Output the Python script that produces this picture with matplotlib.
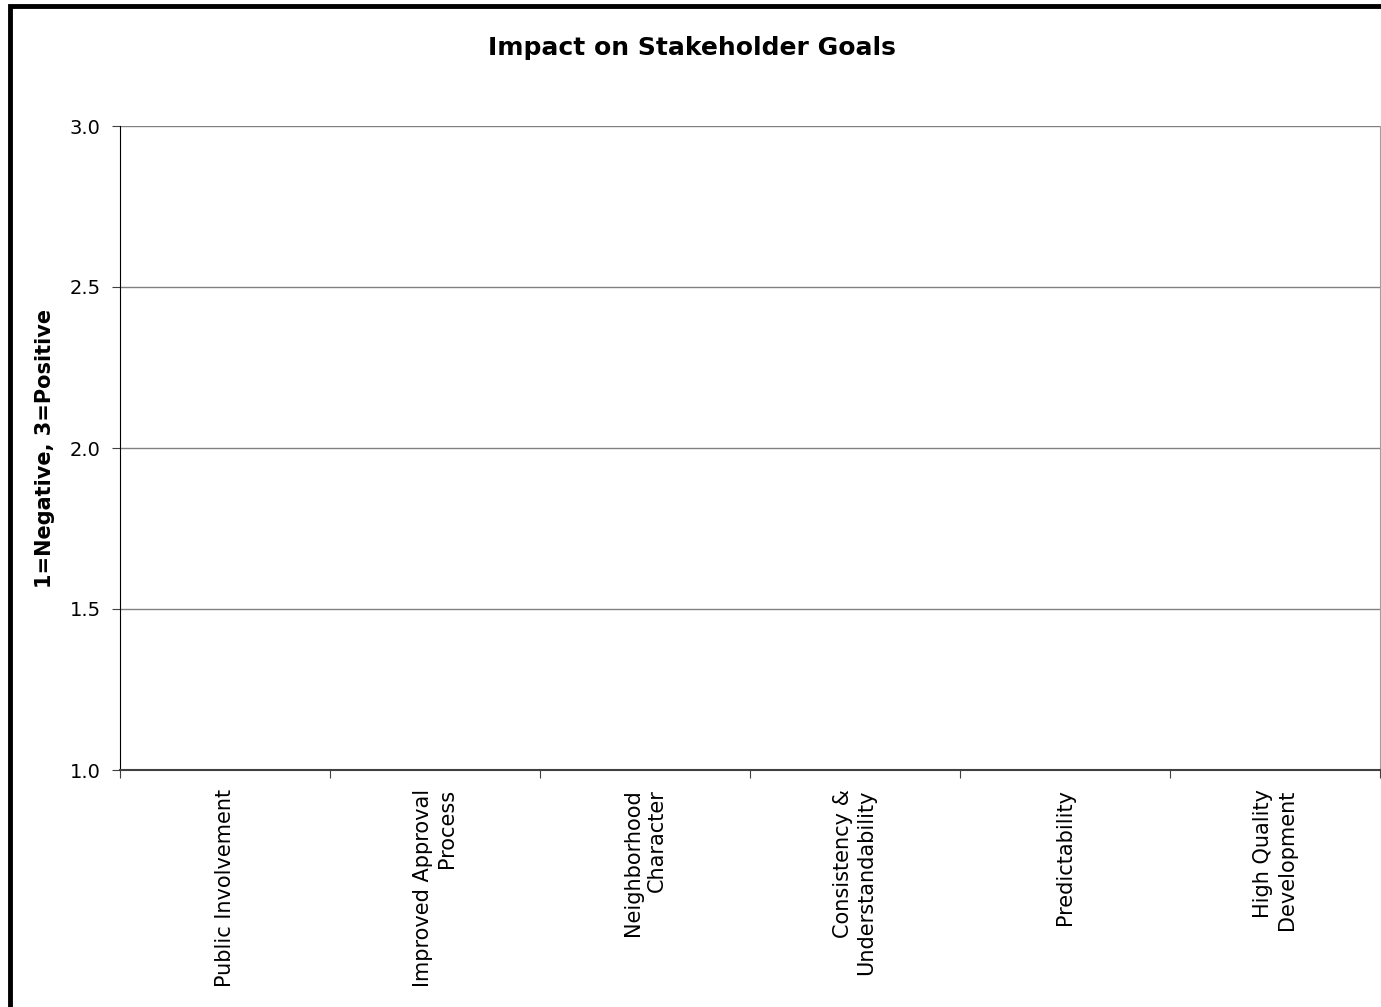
import numpy as np
import matplotlib
matplotlib.use("Agg")
import matplotlib.pyplot as plt
from matplotlib.patches import Rectangle

# categories on the x axis (the chart itself carries no values)
categories = [
    "Public Involvement",
    "Improved Approval\nProcess",
    "Neighborhood\nCharacter",
    "Consistency &\nUnderstandability",
    "Predictability",
    "High Quality\nDevelopment",
]
scores = [np.nan, np.nan, np.nan, np.nan, np.nan, np.nan]
yticks = [1.0, 1.5, 2.0, 2.5, 3.0]

plt.rcParams['font.family'] = ['DejaVu Sans']

fig = plt.figure(figsize=(13.81, 10.07), dpi=100)
ax = fig.add_axes([120 / 1381, 1 - 770 / 1007, 1260 / 1381, 644 / 1007])

x = np.arange(len(categories))
base = yticks[0]
ax.bar(x, np.array(scores) - base, bottom=base, width=0.6, color='#9999ff',
       edgecolor='black')

ax.set_xlim(-0.5, len(categories) - 0.5)
ax.set_ylim(yticks[0], yticks[-1])
ax.set_yticks(yticks)
ax.set_yticklabels(["%.1f" % v for v in yticks], fontsize=14)

# ticks sit on the category boundaries, labels in between
ax.set_xticks(np.arange(len(categories) + 1) - 0.5)
ax.set_xticklabels([])
ax.tick_params(axis='x', length=6, color='#404040')
ax.tick_params(axis='y', length=6, color='#404040', pad=8)
for i, lab in enumerate(categories):
    ax.text(i, -0.03, lab, transform=ax.get_xaxis_transform(), rotation=90,
            ha='center', va='top', multialignment='right', fontsize=15)

ax.yaxis.grid(True, color='#808080', linewidth=1)
ax.set_axisbelow(True)
ax.spines['top'].set_visible(False)
ax.spines['left'].set_color('black')
ax.spines['bottom'].set_color('#404040')
ax.spines['bottom'].set_linewidth(1.5)
ax.spines['right'].set_color('#a0a0a0')

fig.text(45 / 1381, 1 - 448 / 1007, "1=Negative, 3=Positive", rotation=90,
         ha='center', va='center', fontsize=15, fontweight='bold')

fig.text(692 / 1381, 1 - 48 / 1007, "Impact on Stakeholder Goals",
         ha='center', va='center', fontsize=18, fontweight='bold')

# outer chart frame (only left and top edges visible in the picture)
fig.patches.append(Rectangle((9.5 / 1381, -0.05), 1.2, 1 - 5.5 / 1007 + 0.05,
                             transform=fig.transFigure, fill=False,
                             edgecolor='black', linewidth=3.5))

fig.savefig("out.png", dpi=100)
